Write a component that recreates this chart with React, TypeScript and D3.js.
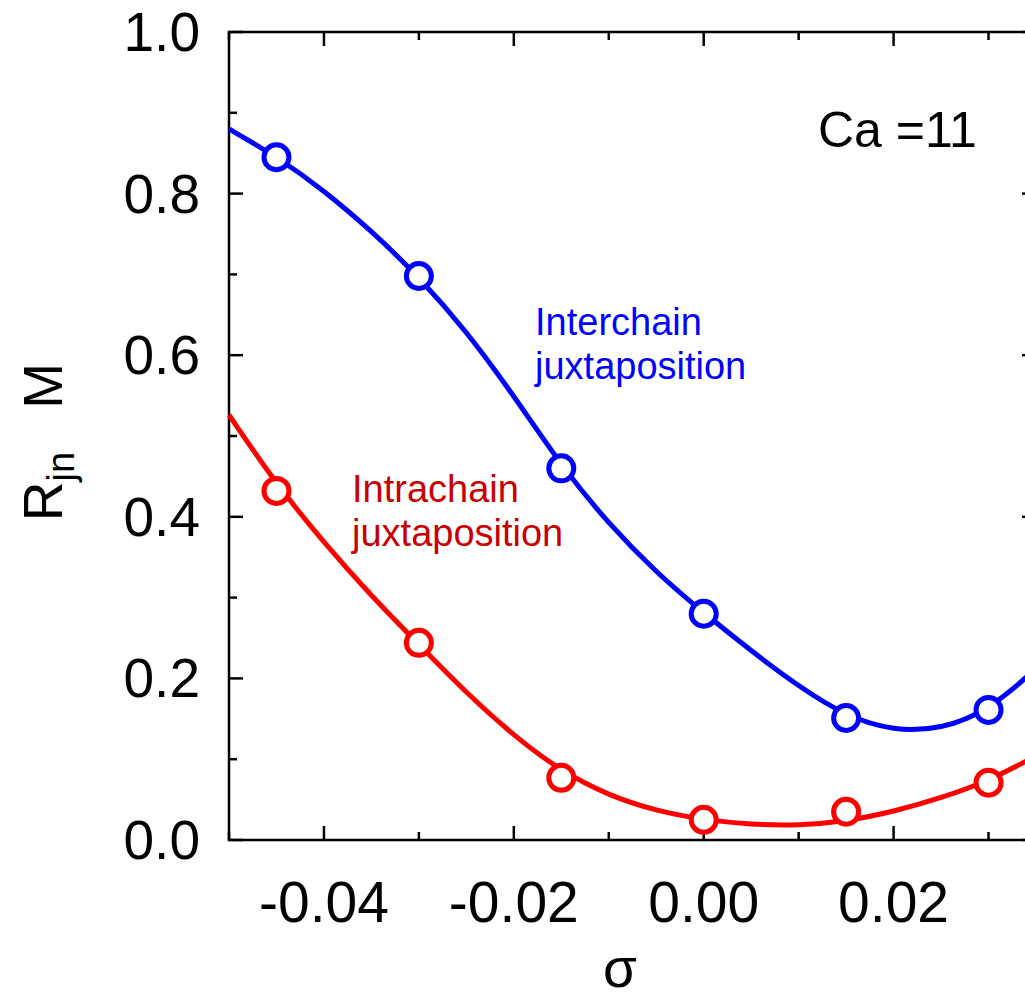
import React, { useEffect, useRef } from "react";
import * as d3 from "d3";

// measured points
const sigma = [-0.045, -0.03, -0.015, 0, 0.015, 0.03];
const interchain = [0.845, 0.698, 0.46, 0.28, 0.151, 0.161];
const intrachain = [0.432, 0.244, 0.077, 0.025, 0.035, 0.071];

// fitted curves
const fitSigma = [
  -0.05, -0.045, -0.04, -0.035, -0.03, -0.025, -0.02, -0.015, -0.01, -0.005,
  0, 0.005, 0.01, 0.015, 0.02, 0.025, 0.03, 0.035,
];
const interchainFit = [
  0.88, 0.846, 0.804, 0.754, 0.697, 0.63, 0.55, 0.463, 0.391, 0.331, 0.281,
  0.234, 0.19, 0.153, 0.135, 0.137, 0.16, 0.212,
];
const intrachainFit = [
  0.526, 0.44, 0.368, 0.302, 0.242, 0.182, 0.129, 0.085, 0.055, 0.036, 0.025,
  0.019, 0.018, 0.023, 0.035, 0.052, 0.073, 0.104,
];

const xTicks = [-0.04, -0.02, 0, 0.02];
const xMinor = [-0.05, -0.03, -0.01, 0.01, 0.03];
const yTicks = [0, 0.2, 0.4, 0.6, 0.8, 1.0];
const yMinor = [0.1, 0.3, 0.5, 0.7, 0.9];

const FONT = "'Liberation Sans', Arial, sans-serif";

const App = () => {
  const svgRef = useRef<SVGSVGElement>(null);

  useEffect(() => {
    const svg = d3.select(svgRef.current);
    svg.selectAll("*").remove();

    const left = 229,
      right = 1036,
      top = 32,
      bottom = 840;

    // ---------------------- scale
    const x = d3.scaleLinear().domain([-0.05, 0.035]).range([left, right]);
    const y = d3.scaleLinear().domain([0, 1]).range([bottom, top]);

    // ---------------------- frame + ticks
    const frame = svg.append("g").attr("stroke", "#000").attr("stroke-width", 2.5);
    frame
      .append("rect")
      .attr("x", left)
      .attr("y", top)
      .attr("width", right - left)
      .attr("height", bottom - top)
      .attr("fill", "none");

    const xt = [
      ...xTicks.map(v => ({ v, len: 14 })),
      ...xMinor.map(v => ({ v, len: 8 })),
    ];
    const yt = [
      ...yTicks.map(v => ({ v, len: 14 })),
      ...yMinor.map(v => ({ v, len: 8 })),
    ];
    xt.forEach(t => {
      frame.append("line").attr("x1", x(t.v)).attr("x2", x(t.v)).attr("y1", bottom).attr("y2", bottom - t.len);
      frame.append("line").attr("x1", x(t.v)).attr("x2", x(t.v)).attr("y1", top).attr("y2", top + t.len);
    });
    yt.forEach(t => {
      frame.append("line").attr("x1", left).attr("x2", left + t.len).attr("y1", y(t.v)).attr("y2", y(t.v));
      frame.append("line").attr("x1", right).attr("x2", right - t.len).attr("y1", y(t.v)).attr("y2", y(t.v));
    });

    // ---------------------- tick labels
    svg
      .append("g")
      .selectAll("text")
      .data(yTicks)
      .join("text")
      .attr("x", 200)
      .attr("y", d => y(d) + 19)
      .attr("text-anchor", "end")
      .attr("font-family", FONT)
      .attr("font-size", 55)
      .text(d => d.toFixed(1));

    svg
      .append("g")
      .selectAll("text")
      .data(xTicks)
      .join("text")
      .attr("x", d => x(d))
      .attr("y", 922)
      .attr("text-anchor", "middle")
      .attr("font-family", FONT)
      .attr("font-size", 57)
      .text(d => d.toFixed(2));

    // ---------------------- axis titles
    svg
      .append("text")
      .attr("x", 620)
      .attr("y", 987)
      .attr("text-anchor", "middle")
      .attr("font-family", FONT)
      .attr("font-size", 55)
      .text("σ");

    const yl = svg
      .append("text")
      .attr("transform", "translate(62, 442) rotate(-90)")
      .attr("text-anchor", "middle")
      .attr("font-family", FONT)
      .attr("font-size", 55);
    yl.append("tspan").text("R");
    yl.append("tspan").attr("font-size", 38).attr("dy", 12).text("jn");
    yl.append("tspan").attr("dy", -12).attr("dx", 28).text(" M");

    // ---------------------- curves
    const plot = svg.append("g");
    const line = d3
      .line<number>()
      .x((_, i) => x(fitSigma[i]))
      .y(d => y(d))
      .curve(d3.curveBasis);

    const series = [
      { fit: intrachainFit, pts: intrachain, color: "#ff0000" },
      { fit: interchainFit, pts: interchain, color: "#0000ff" },
    ];

    series.forEach(s => {
      plot
        .append("path")
        .attr("d", line(s.fit))
        .attr("fill", "none")
        .attr("stroke", s.color)
        .attr("stroke-width", 5);
      plot
        .append("g")
        .selectAll("circle")
        .data(s.pts)
        .join("circle")
        .attr("cx", (_, i) => x(sigma[i]))
        .attr("cy", d => y(d))
        .attr("r", 12.5)
        .attr("fill", "#fff")
        .attr("stroke", s.color)
        .attr("stroke-width", 5);
    });

    // ---------------------- annotations
    const note = (tx: number, ty: number, lines: string[], color: string, size: number) => {
      const t = svg
        .append("text")
        .attr("font-family", FONT)
        .attr("font-size", size)
        .attr("fill", color);
      lines.forEach((l, i) =>
        t.append("tspan").attr("x", tx).attr("y", ty + i * 44).text(l)
      );
    };
    note(535, 335, ["Interchain", "juxtaposition"], "#0000ff", 38);
    note(352, 502, ["Intrachain", "juxtaposition"], "#c80000", 38);
    note(818, 147, ["Ca =11"], "#000", 50);
  }, []);

  return (
    <svg
      ref={svgRef}
      width={1025}
      height={999}
      style={{ position: "absolute", left: 0, top: 0, background: "#fff" }}
    />
  );
};

export default App;
